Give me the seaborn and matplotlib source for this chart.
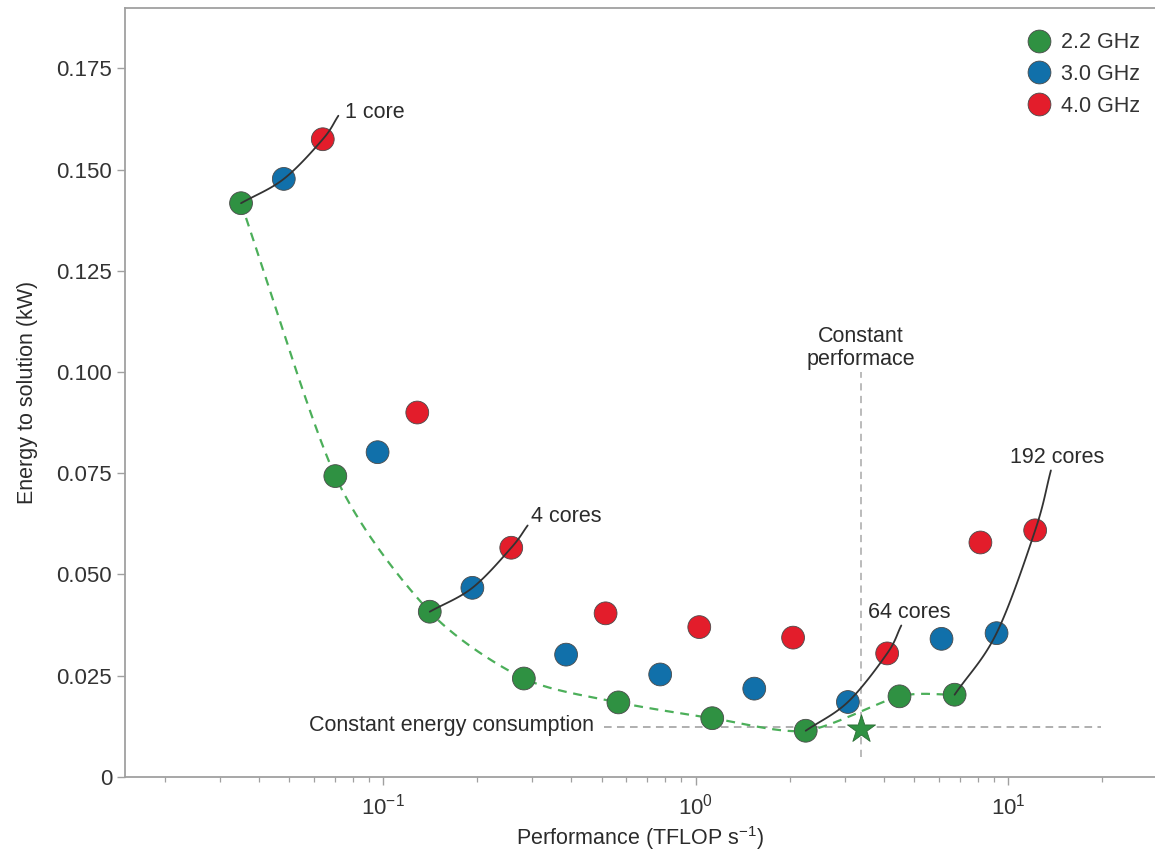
import numpy as np
import pandas as pd
import matplotlib
matplotlib.use("Agg")
import matplotlib.pyplot as plt
import seaborn as sns
from matplotlib.ticker import FuncFormatter, LogLocator, NullFormatter

# ---------------- data ----------------
freq_labels = ["2.2 GHz", "3.0 GHz", "4.0 GHz"]
perf_22 = [0.0351, 0.0703, 0.141, 0.282, 0.566, 1.13, 2.25, 4.49, 6.74]
energy_22 = [0.1417, 0.0743, 0.0408, 0.0243, 0.0184, 0.0145, 0.0114, 0.0199, 0.0203]
perf_30 = [0.0481, 0.096, 0.193, 0.385, 0.77, 1.54, 3.07, 6.12, 9.18]
energy_30 = [0.1477, 0.0802, 0.0467, 0.0302, 0.0253, 0.0218, 0.0185, 0.0341, 0.0355]
perf_40 = [0.0641, 0.1286, 0.257, 0.515, 1.027, 2.05, 4.10, 8.15, 12.2]
energy_40 = [0.1575, 0.0900, 0.0566, 0.0404, 0.0370, 0.0344, 0.0305, 0.0579, 0.0609]

core_labels = ["1 core", "4 cores", "64 cores", "192 cores"]
core_index = [0, 2, 6, 8]                 # which point of each series belongs to the core group
core_line_end_x = [0.0719, 0.290, 4.55, 13.7]
core_line_end_y = [0.1633, 0.0621, 0.0374, 0.0757]
core_text_x = [0.0755, 0.297, 3.56, 10.1]
core_text_y = [0.1641, 0.0643, 0.0406, 0.0790]

const_perf_x = 3.37
const_perf_y = [0.005, 0.100]
const_energy_y = 0.0123
const_energy_x = [0.508, 19.8]
star_x, star_y = 3.37, 0.0119

yticks = [0, 0.025, 0.050, 0.075, 0.100, 0.125, 0.150, 0.175]

colors = {"2.2 GHz": "#2f9142", "3.0 GHz": "#1170aa", "4.0 GHz": "#e31d2b"}

df = pd.DataFrame({
    "Performance": perf_22 + perf_30 + perf_40,
    "Energy": energy_22 + energy_30 + energy_40,
    "Frequency": [freq_labels[0]] * len(perf_22) + [freq_labels[1]] * len(perf_30)
                 + [freq_labels[2]] * len(perf_40),
})


def catmull(xs, ys, n=40, tension=0.5):
    """Smooth curve through points in (log10 x, y) space."""
    lx = np.log10(np.asarray(xs, float))
    yy = np.asarray(ys, float)
    P = np.column_stack([lx, yy])
    P = np.vstack([2 * P[0] - P[1], P, 2 * P[-1] - P[-2]])
    out = []
    t = np.linspace(0, 1, n)
    h00 = 2 * t**3 - 3 * t**2 + 1
    h10 = t**3 - 2 * t**2 + t
    h01 = -2 * t**3 + 3 * t**2
    h11 = t**3 - t**2
    for i in range(1, len(P) - 2):
        p0, p1, p2, p3 = P[i - 1], P[i], P[i + 1], P[i + 2]
        m1 = tension * (p2 - p0)
        m2 = tension * (p3 - p1)
        seg = (h00[:, None] * p1 + h10[:, None] * m1 + h01[:, None] * p2 + h11[:, None] * m2)
        out.append(seg)
    out = np.vstack(out)
    return 10 ** out[:, 0], out[:, 1]


# ---------------- style ----------------
sns.set_theme(style="white")
plt.rcParams["font.family"] = ["Liberation Sans", "DejaVu Sans"]
plt.rcParams["mathtext.fontset"] = "custom"
plt.rcParams["mathtext.rm"] = "Liberation Sans"
plt.rcParams["mathtext.it"] = "Liberation Sans:italic"
plt.rcParams["mathtext.bf"] = "Liberation Sans:bold"

TXT = "#2b2b2b"
FS = 15.5

fig = plt.figure(figsize=(11.55, 8.5), dpi=100)
ax = fig.add_axes([0.108, 0.086, 0.892, 0.905])

# green dashed envelope
gx, gy = catmull(perf_22, energy_22, tension=0.4)
ax.plot(gx, gy, color="#4caf5a", lw=1.6, ls=(0, (4, 3)), zorder=2)

# constant lines
ax.plot([const_perf_x, const_perf_x], const_perf_y, color="#b5b5b5", lw=1.3,
        ls=(0, (4, 3)), zorder=1)
ax.plot(const_energy_x, [const_energy_y, const_energy_y], color="#9a9a9a", lw=1.1,
        ls=(0, (5, 3.5)), zorder=1)

sns.scatterplot(data=df, x="Performance", y="Energy", hue="Frequency",
                palette=colors, s=270, edgecolor="#4a4a4a", linewidth=0.6,
                zorder=3, ax=ax, legend=True)

ax.scatter([star_x], [star_y], marker="*", s=450, color="#2f9142",
           edgecolor="#2a6b33", linewidth=0.6, zorder=3)

# core group curves
series_x = [perf_22, perf_30, perf_40]
series_y = [energy_22, energy_30, energy_40]
for lab, idx, ex, ey, tx, ty in zip(core_labels, core_index, core_line_end_x,
                                    core_line_end_y, core_text_x, core_text_y):
    xs = [s[idx] for s in series_x] + [ex]
    ys = [s[idx] for s in series_y] + [ey]
    cx, cy = catmull(xs, ys)
    ax.plot(cx, cy, color="#333333", lw=1.3, zorder=4)
    ax.text(tx, ty, lab, ha="left", va="center", fontsize=FS, color=TXT)

ax.text(const_perf_x, 0.1060, "Constant\nperformace", ha="center", va="center",
        fontsize=FS, color=TXT, linespacing=1.1)
ax.text(0.472, 0.0126, "Constant energy consumption", ha="right", va="center",
        fontsize=FS, color=TXT)

# axes
ax.set_xscale("log")
ax.set_xlim(0.0149, 29.5)
ax.set_ylim(0, 0.190)
ax.set_yticks(yticks)
ax.yaxis.set_major_formatter(FuncFormatter(lambda v, p: "0" if v == 0 else f"{v:.3f}"))
ax.xaxis.set_major_locator(LogLocator(base=10, numticks=10))
ax.xaxis.set_minor_locator(LogLocator(base=10, subs=np.arange(2, 10), numticks=20))
ax.xaxis.set_minor_formatter(NullFormatter())

ax.set_xlabel("Performance (TFLOP s$^{-1}$)", fontsize=FS, color=TXT, labelpad=3)
ax.set_ylabel("Energy to solution (kW)", fontsize=FS, color=TXT, labelpad=13)

for side in ["left", "bottom", "top"]:
    ax.spines[side].set_color("#a0a0a0")
    ax.spines[side].set_linewidth(1.3)
ax.spines["right"].set_visible(False)

ax.tick_params(axis="both", which="major", direction="out", length=6, width=1,
               color="#a0a0a0", labelsize=16, labelcolor="#333333", bottom=True, left=True)
ax.tick_params(axis="y", which="major", pad=3)
ax.tick_params(axis="x", which="minor", direction="out", length=3.5, width=0.9,
               color="#a0a0a0", bottom=True)
ax.tick_params(axis="x", which="major", pad=6)

handles, labels = ax.get_legend_handles_labels()
leg = ax.legend(handles, labels, loc="upper right", bbox_to_anchor=(0.998, 0.985),
                frameon=False, fontsize=FS, handletextpad=0.0, labelspacing=0.5,
                markerscale=1.0, borderaxespad=0.2)
for t in leg.get_texts():
    t.set_color("#333333")

fig.savefig("out.png", dpi=100)
